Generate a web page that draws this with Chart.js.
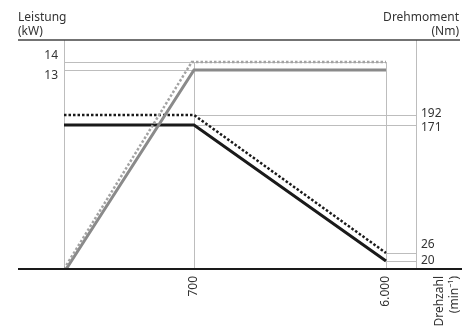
<!DOCTYPE html>
<html>
<head>
<meta charset="utf-8">
<script src="https://cdn.jsdelivr.net/npm/chart.js@4"></script>
<style>
  body { margin: 0; background: #fff; }
  canvas { display: block; }
</style>
</head>
<body>
<canvas id="chart" width="475" height="331"></canvas>
<script>
// values (schematic axes)
const rpmTicks = [700, 6000];
const rpmTickLabels = ["700", "6.000"];
const powerTicks = [13, 14];
const torqueTicks = [192, 171, 26, 20];

const torqueRpm = [0, 700, 6000];
const torqueSolid = [171, 171, 20];
const torqueDotted = [192, 192, 26];

const powerSolidRpm = [12, 700, 6000];
const powerSolid = [0, 13, 13];
const powerDottedRpm = [0, 688, 6000];
const powerDotted = [0, 14, 14];

// the drawing is not to scale: a linear scale bent between fixed stops
class PiecewiseScale extends Chart.LinearScale {
  toDecimal(v) {
    const s = this.options.stops;
    if (v <= s[0][0]) return s[0][1];
    for (let i = 1; i < s.length; i++) {
      if (v <= s[i][0]) {
        const [v0, f0] = s[i - 1], [v1, f1] = s[i];
        return f0 + (v - v0) / (v1 - v0) * (f1 - f0);
      }
    }
    return s[s.length - 1][1];
  }
  getPixelForValue(v) {
    return this.getPixelForDecimal(this.toDecimal(v));
  }
}
PiecewiseScale.id = "piecewise";
PiecewiseScale.defaults = Chart.LinearScale.defaults;
Chart.register(PiecewiseScale);

const pts = (xs, ys) => xs.map((x, i) => ({ x: x, y: ys[i] }));

const FONT = "12px 'Noto Sans', sans-serif";
const TEXT = "#333";
const GRID = "#bdbdbd";

const decor = {
  id: "decor",
  beforeDatasetsDraw(chart) {
    const { ctx, chartArea: a, scales } = chart;
    const x = scales.x, yP = scales.yP, yT = scales.yT;
    const r = (v) => Math.round(v) + 0.5;
    ctx.save();
    ctx.strokeStyle = GRID;
    ctx.lineWidth = 1;
    const line = (x0, y0, x1, y1) => {
      ctx.beginPath();
      ctx.moveTo(x0, y0);
      ctx.lineTo(x1, y1);
      ctx.stroke();
    };
    // side axes
    line(r(a.left), a.top, r(a.left), a.bottom);
    line(r(a.right), a.top, r(a.right), a.bottom);
    // power grid: left axis to 6000
    powerTicks.forEach((t) => {
      const y = r(yP.getPixelForValue(t));
      line(a.left, y, x.getPixelForValue(6000), y);
    });
    // torque grid
    torqueTicks.forEach((t) => {
      const y = r(yT.getPixelForValue(t));
      const from = t > 100 ? 700 : 6000;
      line(x.getPixelForValue(from), y, a.right, y);
    });
    // rpm verticals
    const top = yP.getPixelForValue(14);
    rpmTicks.forEach((t) => {
      const xx = r(x.getPixelForValue(t));
      line(xx, top, xx, a.bottom);
    });
    ctx.restore();
  },
  afterDraw(chart) {
    const { ctx, chartArea: a, scales } = chart;
    const x = scales.x, yP = scales.yP, yT = scales.yT;
    ctx.save();
    // top rule and base line
    ctx.strokeStyle = "#444";
    ctx.lineWidth = 1.5;
    ctx.beginPath();
    ctx.moveTo(18, a.top);
    ctx.lineTo(460, a.top);
    ctx.stroke();
    ctx.strokeStyle = "#1a1a1a";
    ctx.lineWidth = 2;
    ctx.beginPath();
    ctx.moveTo(18, a.bottom);
    ctx.lineTo(462, a.bottom);
    ctx.stroke();

    ctx.font = FONT;
    ctx.fillStyle = TEXT;
    ctx.textBaseline = "alphabetic";
    ctx.textAlign = "left";
    ctx.fillText("Leistung", 18, 21);
    ctx.fillText("(kW)", 18, 35);
    ctx.textAlign = "right";
    ctx.fillText("Drehmoment", 459, 21);
    ctx.fillText("(Nm)", 459, 35);

    // tick labels, nudged apart where they crowd
    ctx.textBaseline = "middle";
    const powerShift = { 14: -6, 13: 6 };
    powerTicks.forEach((t) => {
      ctx.fillText(String(t), 58, yP.getPixelForValue(t) + powerShift[t]);
    });
    ctx.textAlign = "left";
    const torqueShift = { 192: -1.5, 171: 3, 26: -8, 20: 0 };
    torqueTicks.forEach((t) => {
      ctx.fillText(String(t), 421, yT.getPixelForValue(t) + torqueShift[t]);
    });

    // rotated rpm labels
    rpmTicks.forEach((t, i) => {
      ctx.save();
      ctx.translate(x.getPixelForValue(t), a.bottom + 7);
      ctx.rotate(-Math.PI / 2);
      ctx.textAlign = "right";
      ctx.textBaseline = "middle";
      ctx.fillText(rpmTickLabels[i], 0, 0);
      ctx.restore();
    });
    [["Drehzahl", 443], ["(min\u207B\u00B9)", 458]].forEach(([s, xx]) => {
      ctx.save();
      ctx.translate(xx, a.bottom + 7);
      ctx.rotate(-Math.PI / 2);
      ctx.textAlign = "right";
      ctx.textBaseline = "alphabetic";
      ctx.fillText(s, 0, 0);
      ctx.restore();
    });
    ctx.restore();
  },
};

new Chart(document.getElementById("chart"), {
  type: "line",
  data: {
    datasets: [
      {
        data: pts(powerDottedRpm, powerDotted),
        yAxisID: "yP",
        borderColor: "#a3a3a3",
        borderWidth: 2.5,
        borderDash: [2.5, 2],
      },
      {
        data: pts(powerSolidRpm, powerSolid),
        yAxisID: "yP",
        borderColor: "#8a8a8a",
        borderWidth: 3,
      },
      {
        data: pts(torqueRpm, torqueDotted),
        yAxisID: "yT",
        borderColor: "#1a1a1a",
        borderWidth: 2.5,
        borderDash: [2.5, 2],
      },
      {
        data: pts(torqueRpm, torqueSolid),
        yAxisID: "yT",
        borderColor: "#1a1a1a",
        borderWidth: 3,
      },
    ],
  },
  options: {
    responsive: false,
    animation: false,
    events: [],
    layout: { padding: { left: 64, right: 59, top: 40, bottom: 62 } },
    elements: {
      point: { radius: 0 },
      line: { tension: 0, fill: false, borderCapStyle: "butt" },
    },
    plugins: { legend: { display: false }, tooltip: { enabled: false } },
    scales: {
      x: {
        type: "piecewise",
        display: false,
        min: 0,
        max: 7000,
        stops: [[0, 0], [700, 130 / 352], [6000, 322 / 352], [7000, 1]],
      },
      yP: {
        type: "piecewise",
        position: "left",
        display: false,
        min: 0,
        max: 16,
        stops: [[0, 0], [13, 199 / 229], [14, 207 / 229], [16, 1]],
      },
      yT: {
        type: "piecewise",
        position: "right",
        display: false,
        min: 0,
        max: 250,
        stops: [[0, 0], [20, 8 / 229], [26, 16 / 229], [171, 144 / 229], [192, 154 / 229], [250, 1]],
      },
    },
  },
  plugins: [decor],
});
</script>
</body>
</html>
